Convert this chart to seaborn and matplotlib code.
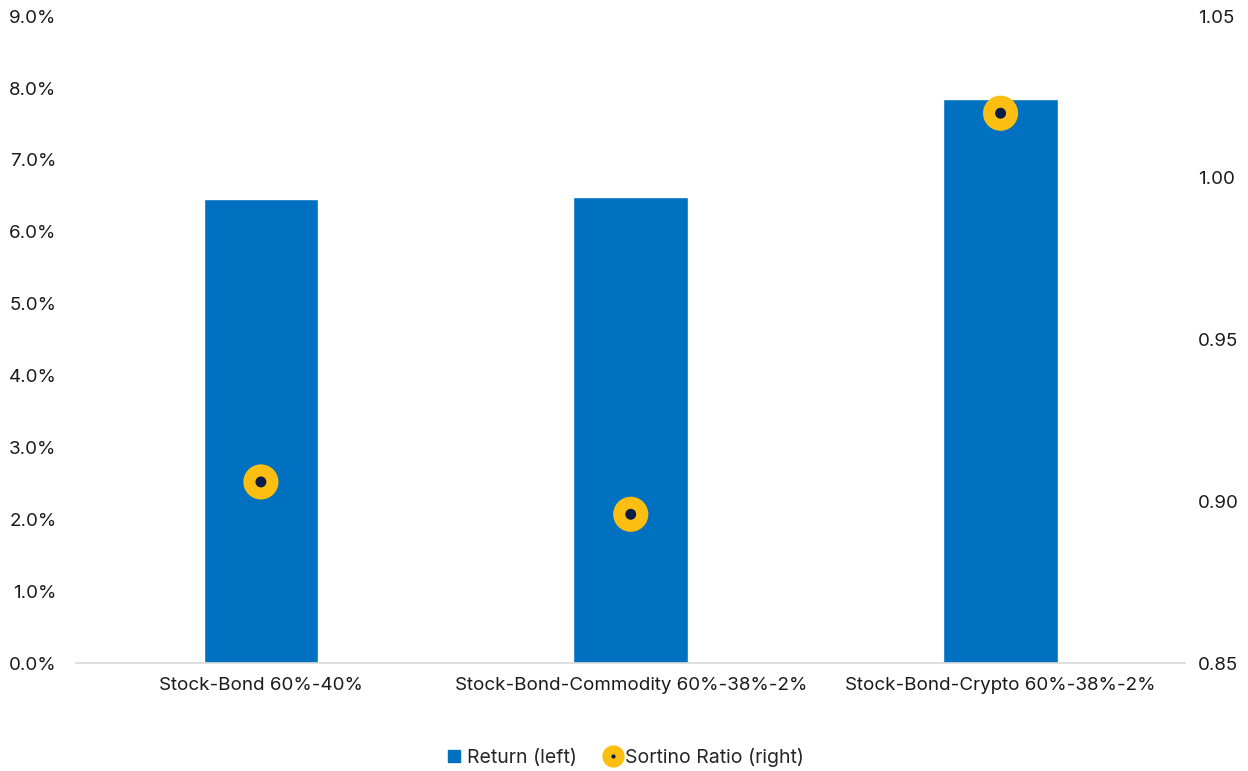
import matplotlib
matplotlib.use("Agg")
import matplotlib.pyplot as plt
import seaborn as sns
import pandas as pd
from matplotlib.lines import Line2D
from matplotlib.ticker import FuncFormatter, FixedLocator

categories = ["Stock-Bond 60%-40%", "Stock-Bond-Commodity 60%-38%-2%", "Stock-Bond-Crypto 60%-38%-2%"]
returns = [6.46, 6.49, 7.85]
sortino = [0.906, 0.896, 1.020]
left_ticks = [0, 1, 2, 3, 4, 5, 6, 7, 8, 9]
right_ticks = [0.85, 0.90, 0.95, 1.00, 1.05]

sns.set_theme(style="white")
plt.rcParams['font.family'] = ['Inter', 'DejaVu Sans']

BLUE = "#0070C0"
YELLOW = "#FDBE12"
NAVY = "#0B1D45"
TXT = "#1a1a1a"
FS = 13.5

df = pd.DataFrame({"cat": categories, "ret": returns, "sortino": sortino})

fig = plt.figure(figsize=(12.48, 7.71), dpi=100)
ax = fig.add_axes([0.0609, 0.140, 0.889, 0.839])
sns.barplot(data=df, x="cat", y="ret", color=BLUE, width=0.31, saturation=1, ax=ax)
ax.set_ylim(0, 9)
ax.yaxis.set_major_locator(FixedLocator(left_ticks))
ax.yaxis.set_major_formatter(FuncFormatter(lambda v, p: f"{v:.1f}%"))
ax.set_xlim(-0.5, 2.5)
ax.set_xlabel("")
ax.set_ylabel("")
for s in ["top", "left", "right"]:
    ax.spines[s].set_visible(False)
ax.spines["bottom"].set_color("#d9d9d9")
ax.spines["bottom"].set_linewidth(1.2)
ax.tick_params(axis="both", length=0, labelsize=FS, colors=TXT)
ax.tick_params(axis="y", pad=14)
ax.tick_params(axis="x", pad=10)

ax2 = ax.twinx()
sns.scatterplot(data=df, x="cat", y="sortino", s=640, color=YELLOW, edgecolor="none", ax=ax2, zorder=3)
sns.scatterplot(data=df, x="cat", y="sortino", s=62, color=NAVY, edgecolor="none", ax=ax2, zorder=4)
ax2.set_ylim(0.85, 1.05)
ax2.yaxis.set_major_locator(FixedLocator(right_ticks))
ax2.yaxis.set_major_formatter(FuncFormatter(lambda v, p: f"{v:.2f}"))
ax2.set_ylabel("")
ax2.set_xlabel("")
for s in ["top", "left", "right", "bottom"]:
    ax2.spines[s].set_visible(False)
ax2.tick_params(axis="y", length=0, labelsize=FS, colors=TXT, pad=9)

h1 = Line2D([], [], marker="s", linestyle="none", color=BLUE, markersize=8.5)
h2a = Line2D([], [], marker="o", linestyle="none", color=YELLOW, markersize=15)
h2b = Line2D([], [], marker="o", linestyle="none", color=NAVY, markersize=2)
fig.legend([h1, (h2a, h2b)], ["Return (left)", "Sortino Ratio (right)"],
           loc="center", bbox_to_anchor=(0.5, 0.018), ncol=2, frameon=False,
           fontsize=14, handletextpad=0.1, columnspacing=1.3, handlelength=1.1)

fig.savefig("out.png", dpi=100)
